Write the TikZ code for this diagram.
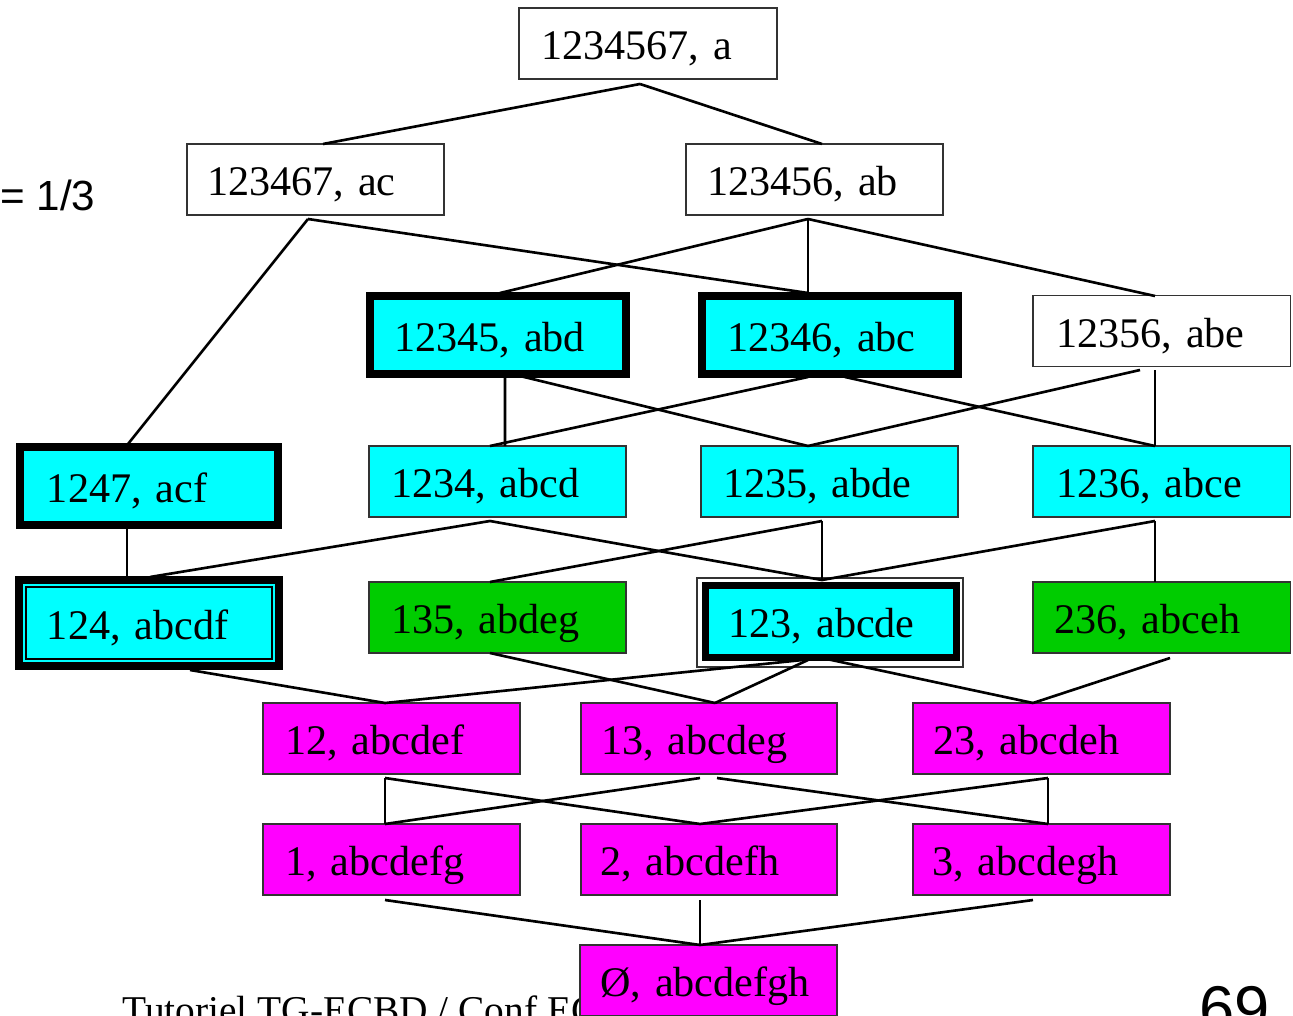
\documentclass[tikz,border=0pt]{standalone}
\usepackage{fontspec}
\setmainfont{Liberation Serif}
\newfontfamily\arialfont{Liberation Sans}
\usetikzlibrary{calc}
\definecolor{lcyan}{RGB}{0,255,255}
\definecolor{lgreen}{RGB}{0,204,0}
\definecolor{lmagenta}{RGB}{255,0,255}

% \lbox{style}{name}{cx}{cy}{width}{height}{left padding}{label}
\newcommand\lbox[8]{%
  \pgfmathsetmacro\lbW{#5*0.02}%
  \pgfmathsetmacro\lbH{#6*0.02}%
  \pgfmathsetmacro\lbT{(#5-2*#7)*0.02}%
  \pgfmathsetmacro\lbP{#7*0.02}%
  \node[#1, minimum width=\lbW cm, minimum height=\lbH cm, text width=\lbT cm,
        inner xsep=\lbP cm] (#2) at (#3,#4) {#8};}

\tikzset{
  lattice/.style={rectangle, inner ysep=0pt, outer sep=0pt, align=left,
    font=\fontsize{24pt}{28pt}\selectfont, text height=18.5pt, text depth=0pt},
  plainbox/.style={lattice, draw=black!80, line width=0.6pt, fill=white},
  cyanbox/.style={plainbox, fill=lcyan},
  greenbox/.style={plainbox, fill=lgreen},
  pinkbox/.style={plainbox, fill=lmagenta},
  keybox/.style={lattice, draw=black, line width=0.16cm, fill=lcyan},
  edge/.style={line width=1.5pt, black},
}

\begin{document}
\begin{tikzpicture}[x=0.02cm, y=-0.02cm]
\useasboundingbox (0,0) rectangle (1293,1016);
\clip (0,0) rectangle (1293,1016);

% concepts of the lattice
\lbox{plainbox}{A}{648}{43.5}{258}{71}{22}{1234567, a}
\lbox{plainbox}{B}{315.5}{179.5}{257}{71}{20}{123467, ac}
\lbox{plainbox}{C}{814.5}{179.5}{257}{71}{21}{123456, ab}
\lbox{keybox}{D}{498}{335}{256}{78}{24}{12345, abd}
\lbox{keybox}{E}{830}{335}{256}{78}{25}{12346, abc}
\lbox{plainbox}{F}{1161.5}{331}{257}{71}{23}{12356, abe}
\lbox{keybox}{G}{149}{486}{258}{78}{27}{1247, acf}
\lbox{cyanbox}{H}{497.5}{481.5}{257}{71}{22}{1234, abcd}
\lbox{cyanbox}{I}{829.5}{481.5}{257}{71}{22}{1235, abde}
\lbox{cyanbox}{J}{1161.5}{481.5}{257}{71}{23}{1236, abce}
\lbox{keybox}{K}{149}{623}{260}{86}{28}{124, abcdf}
\lbox{greenbox}{L}{497.5}{617.5}{257}{71}{22}{135, abdeg}
\lbox{keybox, line width=0.14cm}{M}{831}{621}{251}{72}{23}{123, abcde}
\lbox{greenbox}{N}{1161.5}{617.5}{257}{71}{21}{236, abceh}
\lbox{pinkbox}{O}{391.5}{738.5}{257}{71}{22}{12, abcdef}
\lbox{pinkbox}{P}{709}{738.5}{256}{71}{20}{13, abcdeg}
\lbox{pinkbox}{Q}{1041.5}{738.5}{257}{71}{20}{23, abcdeh}
\lbox{pinkbox}{R}{391.5}{859.5}{257}{71}{22}{1, abcdefg}
\lbox{pinkbox}{S}{709}{859.5}{256}{71}{19}{2, abcdefh}
\lbox{pinkbox}{T}{1041.5}{859.5}{257}{71}{19}{3, abcdegh}

% inner and outer frames of the two doubly framed concepts
\draw[black, line width=1.2pt] ($(K)+(-123,-36)$) rectangle ($(K)+(123,36)$);
\draw[black!80, line width=0.8pt] ($(M)+(-134,-43)$) rectangle ($(M)+(132,46)$);

% cover relations
\draw[edge] ($(A)+(-8,40.5)$) -- ($(B)+(7.5,-35.5)$);
\draw[edge] ($(A)+(-8,40.5)$) -- ($(C)+(7.5,-35.5)$);
\draw[edge] ($(B)+(-7.5,39.5)$) -- ($(G)+(-21,-42)$);
\draw[edge] ($(B)+(-7.5,39.5)$) -- ($(E)+(-22,-42)$);
\draw[edge] ($(C)+(-6.5,39.5)$) -- ($(D)+(2,-42)$);
\draw[edge] ($(C)+(-6.5,39.5)$) -- ($(E)+(-22,-42)$);
\draw[edge] ($(C)+(-6.5,39.5)$) -- ($(F)+(-6.5,-35)$);
\draw[edge] ($(D)+(7,41)$) -- ($(H)+(7.5,-35.5)$);
\draw[edge] ($(D)+(22,41)$) -- ($(I)+(-21.5,-35.5)$);
\draw[edge] ($(E)+(-22,42)$) -- ($(H)+(-7.5,-35.5)$);
\draw[edge] ($(E)+(15,42)$) -- ($(J)+(-6.5,-35.5)$);
\draw[edge] ($(F)+(-21.5,39)$) -- ($(I)+(-21.5,-35.5)$);
\draw[edge] ($(F)+(-6.5,39)$) -- ($(J)+(-6.5,-35.5)$);
\draw[edge] ($(G)+(-22,43)$) -- ($(K)+(-22,-46)$);
\draw[edge] ($(H)+(-7.5,39.5)$) -- ($(K)+(1,-46)$);
\draw[edge] ($(H)+(-7.5,39.5)$) -- ($(M)+(-9,-41)$);
\draw[edge] ($(I)+(-7.5,39.5)$) -- ($(L)+(-7.5,-35.5)$);
\draw[edge] ($(I)+(-7.5,39.5)$) -- ($(M)+(-9,-41)$);
\draw[edge] ($(J)+(-6.5,39.5)$) -- ($(M)+(-9,-41)$);
\draw[edge] ($(J)+(-6.5,39.5)$) -- ($(N)+(-6.5,-35.5)$);
\draw[edge] ($(K)+(41,47)$) -- ($(O)+(-6.5,-35.5)$);
\draw[edge] ($(M)+(-9,37)$) -- ($(O)+(-6.5,-35.5)$);
\draw[edge] ($(L)+(-7.5,35.5)$) -- ($(P)+(6,-35.5)$);
\draw[edge] ($(M)+(-23,39)$) -- ($(P)+(6,-35.5)$);
\draw[edge] ($(M)+(-9,37)$) -- ($(Q)+(-8.5,-35.5)$);
\draw[edge] ($(N)+(8.5,40.5)$) -- ($(Q)+(-8.5,-35.5)$);
\draw[edge] ($(O)+(-6.5,39.5)$) -- ($(R)+(-6.5,-35.5)$);
\draw[edge] ($(O)+(-6.5,39.5)$) -- ($(S)+(-9,-35.5)$);
\draw[edge] ($(P)+(-9,39.5)$) -- ($(R)+(-6.5,-35.5)$);
\draw[edge] ($(P)+(8,39.5)$) -- ($(T)+(6.5,-35.5)$);
\draw[edge] ($(Q)+(6.5,39.5)$) -- ($(S)+(-9,-35.5)$);
\draw[edge] ($(Q)+(6.5,39.5)$) -- ($(T)+(6.5,-35.5)$);

% footer, partly hidden by the bottom concept
\node[anchor=base west, inner sep=0pt, font=\fontsize{22.4pt}{26pt}\selectfont]
  (foot) at (122,1023.5) {Tutoriel TG-ECBD / Conf EGC};

\lbox{pinkbox}{U}{708.5}{980.5}{257}{71}{20}{Ø, abcdefgh}
\draw[edge] ($(R)+(-6.5,40.5)$) -- ($(U)+(-8.5,-35.5)$);
\draw[edge] ($(S)+(-9,40.5)$) -- ($(U)+(-8.5,-35.5)$);
\draw[edge] ($(T)+(-8.5,40.5)$) -- ($(U)+(-8.5,-35.5)$);

% threshold and page number
\node[anchor=base west, inner sep=0pt, font=\arialfont\fontsize{24pt}{28pt}\selectfont]
  (minsup) at (0,211) {= 1/3};
\node[anchor=base west, inner sep=0pt, font=\arialfont\fontsize{36pt}{40pt}\selectfont]
  (page) at (1199,1030) {69};
\end{tikzpicture}
\end{document}
